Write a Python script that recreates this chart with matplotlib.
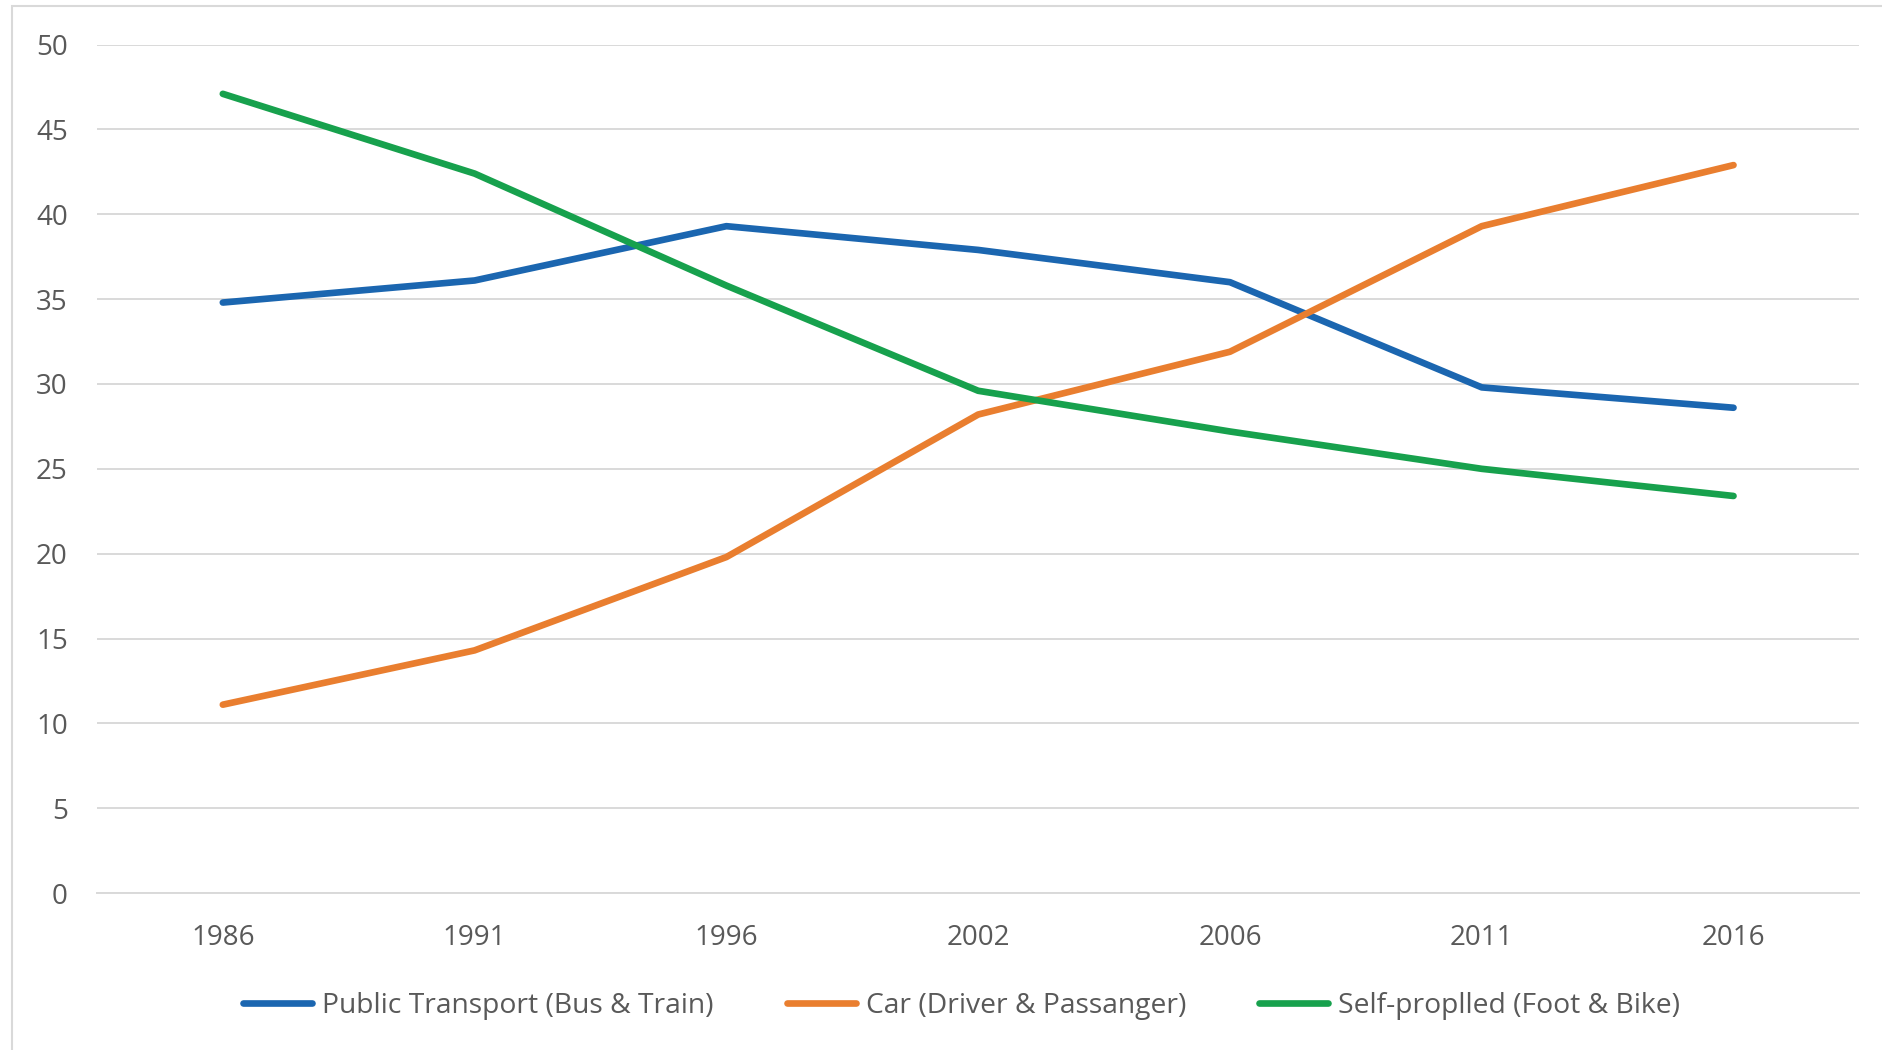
import matplotlib.pyplot as plt
from matplotlib.patches import Rectangle

years = ['1986', '1991', '1996', '2002', '2006', '2011', '2016']
public_transport = [34.8, 36.1, 39.3, 37.9, 36.0, 29.8, 28.6]
car = [11.1, 14.3, 19.8, 28.2, 31.9, 39.3, 42.9]
self_propelled = [47.1, 42.4, 35.8, 29.6, 27.2, 25.0, 23.4]

series_labels = ['Public Transport (Bus & Train)', 'Car (Driver & Passanger)',
                 'Self-proplled (Foot & Bike)']
colors = ['#1B66B0', '#E97E2F', '#17A14D']

plt.rcParams['font.family'] = ['Open Sans', 'DejaVu Sans']
text_color = '#595959'

fig = plt.figure(figsize=(18.82, 10.5), dpi=100)
ax = fig.add_axes([0.0515, 0.1495, 0.9365, 0.808])

x = range(len(years))
for values, label, color in zip([public_transport, car, self_propelled], series_labels, colors):
    ax.plot(x, values, color=color, lw=4.8, solid_capstyle='round', label=label)

ax.set_xlim(-0.5, len(years) - 0.5)
ax.set_ylim(0, 50)
ax.set_yticks(range(0, 51, 5))
ax.set_xticks(list(x))
ax.set_xticklabels(years)
ax.yaxis.grid(True, color='#D9D9D9', lw=1.4)
ax.set_axisbelow(True)
for side in ['top', 'right', 'left', 'bottom']:
    ax.spines[side].set_visible(False)
ax.spines['bottom'].set_visible(True)
ax.spines['bottom'].set_color('#D9D9D9')
ax.spines['bottom'].set_linewidth(1.4)
ax.tick_params(axis='both', length=0, labelsize=20, colors=text_color)
ax.tick_params(axis='x', pad=22)
ax.tick_params(axis='y', pad=21)

# thin outer frame of the chart area
fig.patches.append(Rectangle((12 / 1882, -0.1), 1.2, 1.1 - 6 / 1050,
                             transform=fig.transFigure, fill=False,
                             edgecolor='#D9D9D9', lw=1.5))

leg = fig.legend(loc='center', bbox_to_anchor=(0.511, 0.042), ncol=3, frameon=False,
                 fontsize=20.3, handlelength=2.45, handletextpad=0.35, columnspacing=2.6,
                 labelcolor=text_color)

fig.savefig('out.png', dpi=100)
